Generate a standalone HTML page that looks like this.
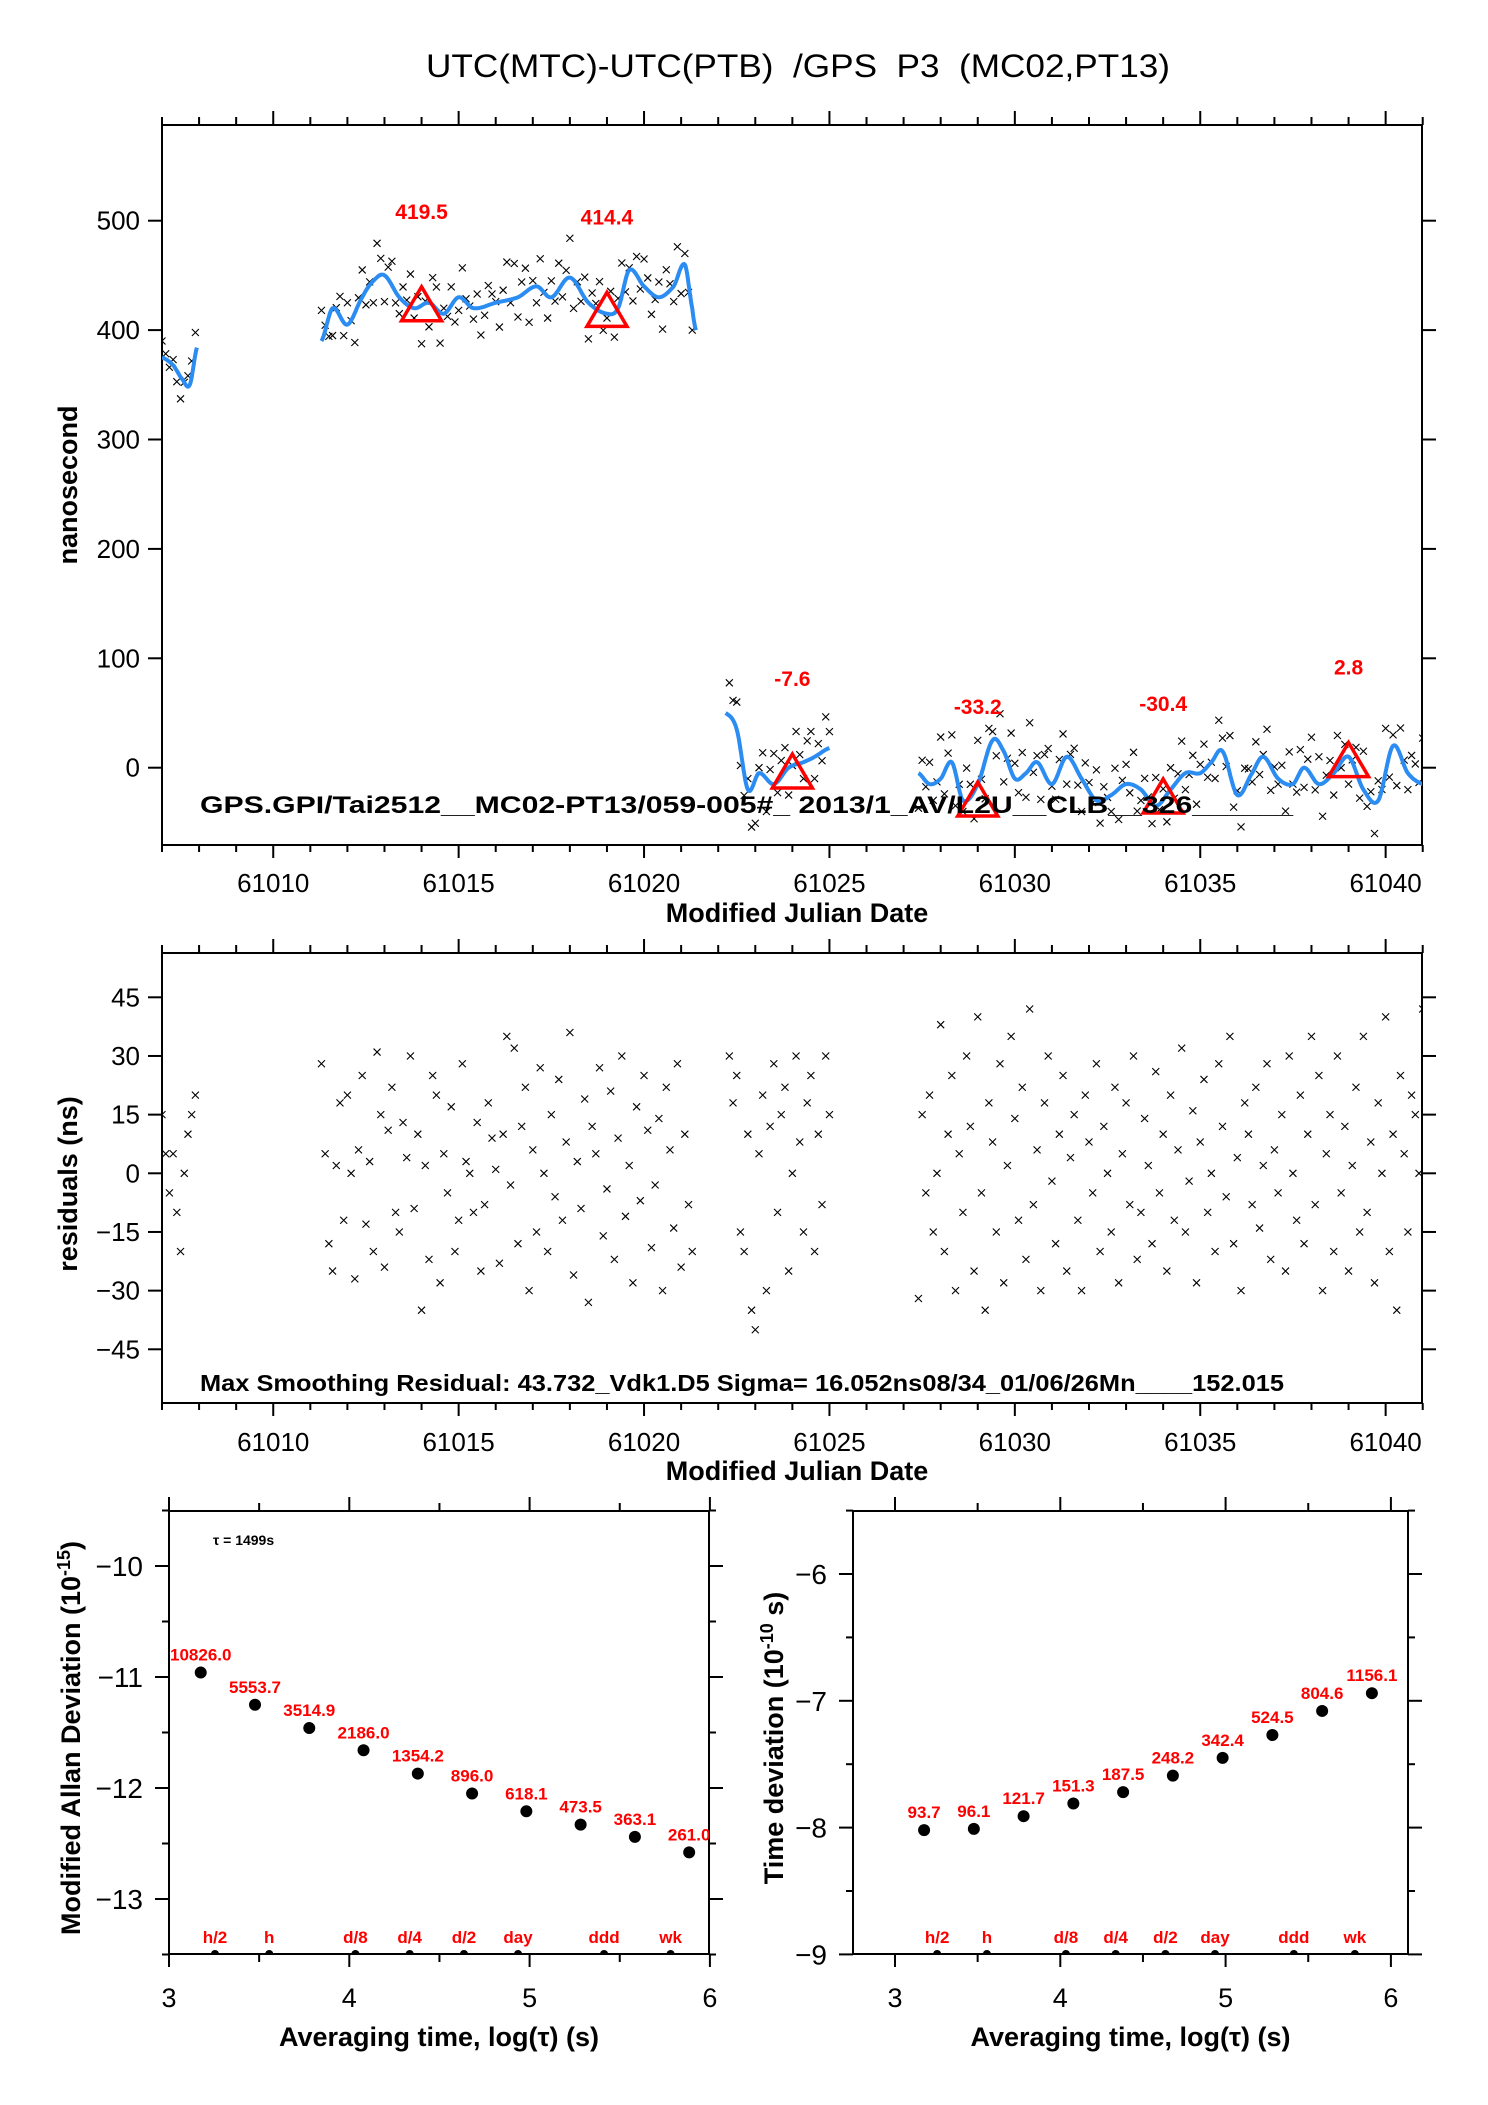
<!DOCTYPE html>
<html><head><meta charset="utf-8"><style>
html,body{margin:0;padding:0;background:#fff;}
svg{display:block;font-family:"Liberation Sans",Arial,sans-serif;}
</style></head><body>
<svg id="chart" width="1488" height="2105" viewBox="0 0 1488 2105" xmlns="http://www.w3.org/2000/svg">
<defs>
<clipPath id="clipTop"><rect x="162" y="125" width="1260" height="720"/></clipPath>
<clipPath id="clipMid"><rect x="162" y="953" width="1260" height="450"/></clipPath>
<clipPath id="clipBL"><rect x="169" y="1511" width="540" height="444"/></clipPath>
<clipPath id="clipBR"><rect x="853" y="1511" width="555" height="444"/></clipPath>
</defs>
<text x="426" y="77" font-size="32" xml:space="preserve" textLength="744" lengthAdjust="spacingAndGlyphs">UTC(MTC)-UTC(PTB)  /GPS  P3  (MC02,PT13)</text>
<g id="gTop"></g>
<g id="gMid"></g>
<g id="gBL"></g>
<g id="gBR"></g>
</svg>
<script>
// ---------- data ----------
var segStarts = [61007.0, 61011.3, 61022.3, 61027.4];
var segStep = 0.1;
var resid1 = [15,5,-5,5,-10,-20,0,10,15,20];
var resid2 = [28,5,-18,-25,2,18,-12,20,0,-27,6,25,-13,3,-20,31,15,-24,11,22,-10,-15,13,4,30,-9,10,-35,2,-22,25,20,-28,5,-5,17,-20,-12,28,3,0,-10,13,-25,-8,18,9,1,-23,10,35,-3,32,-18,12,22,-30,6,-15,27,0,-20,15,-6,24,-12,8,36,-26,3,-9,19,-33,12,5,27,-16,-4,21,-22,9,30,-11,2,-28,17,-7,25,11,-19,-3,14,-30,22,6,-14,28,-24,10,-8,-20];
var resid3 = [30,18,25,-15,-20,10,-35,-40,5,20,-30,12,28,-10,15,22,-25,0,30,8,-15,18,25,-20,10,-8,30,15];
var resid4 = [-32,15,-5,20,-15,0,38,-20,10,25,-30,5,-10,30,12,-25,40,-5,-35,18,8,-15,28,-28,2,35,14,-12,22,-22,42,-8,6,-30,18,30,-2,-18,10,25,-25,4,15,-12,-30,20,8,-5,28,-20,12,0,-15,22,-28,5,18,-8,30,-22,-10,14,2,-18,26,-5,10,-25,20,-12,6,32,-15,-2,16,-28,8,24,-10,0,-20,28,12,-6,35,-18,4,-30,18,10,-8,22,-14,2,28,-22,6,-5,15,-25,30,0,-12,20,-18,10,35,-8,25,-30,5,15,-20,30,-5,12,-25,2,22,-15,35,-10,8,-28,18,0,40,-20,10,-35,25,5,-15,20,15,0,42];
var smoothT1 = [61007.0,61007.3,61007.55,61007.75,61007.95];
var smoothV1 = [375,368,355,350,385];
var smoothT2 = [61011.3,61011.6,61012.0,61012.4,61012.7,61013.0,61013.4,61013.8,61014.2,61014.6,61015.0,61015.4,61016.0,61016.6,61017.1,61017.5,61018.0,61018.5,61019.0,61019.3,61019.6,61020.0,61020.4,61020.8,61021.1,61021.3,61021.4];
var smoothV2 = [390,420,405,430,445,450,430,420,425,415,430,420,425,430,440,430,448,425,415,420,455,440,430,440,460,420,400];
var smoothT3 = [61022.2,61022.5,61022.8,61023.1,61023.5,61023.9,61024.3,61024.6,61025.0];
var smoothV3 = [50,35,-20,-5,-15,0,5,10,18];
var smoothT4 = [61027.4,61027.7,61028.0,61028.3,61028.6,61029.0,61029.4,61029.7,61030.0,61030.3,61030.6,61031.0,61031.4,61031.8,61032.2,61032.6,61033.0,61033.4,61033.8,61034.2,61034.6,61035.0,61035.3,61035.6,61036.0,61036.4,61036.7,61037.1,61037.5,61037.8,61038.2,61038.6,61039.0,61039.4,61039.8,61040.2,61040.6,61041.0];
var smoothV4 = [-5,-15,-10,5,-30,-15,25,15,-10,-5,5,-15,10,-10,-30,-25,-15,-20,-35,-20,-5,-5,5,15,-25,-5,10,-10,-15,0,-15,-5,10,-20,-30,20,-5,-15];
var markerDays = [61014,61019,61024,61029,61034,61039];
var markerValues = [419.5,414.4,-7.6,-33.2,-30.4,2.8];
var markerLabels = ["419.5","414.4","-7.6","-33.2","-30.4","2.8"];
var topYTicks = [0,100,200,300,400,500];
var midYTicks = [45,30,15,0,-15,-30,-45];
var xTickLabels = [61010,61015,61020,61025,61030,61035,61040];
var logTau = [3.176,3.477,3.778,4.079,4.380,4.681,4.982,5.283,5.584,5.885];
var madevValues = [-10.96,-11.25,-11.46,-11.66,-11.87,-12.05,-12.21,-12.33,-12.44,-12.58];
var madevLabels = ["10826.0","5553.7","3514.9","2186.0","1354.2","896.0","618.1","473.5","363.1","261.0"];
var tdevValues = [-8.02,-8.01,-7.91,-7.81,-7.72,-7.59,-7.45,-7.27,-7.08,-6.94];
var tdevLabels = ["93.7","96.1","121.7","151.3","187.5","248.2","342.4","524.5","804.6","1156.1"];
var periodNames = ["h/2","h","d/8","d/4","d/2","day","ddd","wk"];
var periodLog = [3.255,3.556,4.034,4.335,4.636,4.936,5.413,5.782];
var leftYTicks = [-10,-11,-12,-13];
var rightYTicks = [-6,-7,-8,-9];
var logXTicks = [3,4,5,6];

// ---------- scales ----------
function X(t){return 162+(t-61007)*37.08;}
function Y1(v){return 767.7-v*1.094;}
function Y2(r){return 1173.3-r*3.911;}
function XL(l){return 169+(l-3)*180.3;}
function YL(v){return 1566+(-10-v)*111;}
function XR(l){return 895+(l-3)*165.3;}
function YR(v){return 1574+(-6-v)*126.8;}

var NS="http://www.w3.org/2000/svg";
function mk(parent,tag,attrs,text){var e=document.createElementNS(NS,tag);for(var k in attrs)e.setAttribute(k,attrs[k]);if(text!==undefined)e.textContent=text;parent.appendChild(e);return e;}
function fmt(v){return v<0?"\u2212"+(-v):""+v;}

function catmull(ts,vs,t){
  var n=ts.length; if(t<=ts[0])return vs[0]; if(t>=ts[n-1])return vs[n-1];
  var i=0; while(i<n-2&&t>ts[i+1])i++;
  var p0=vs[Math.max(i-1,0)],p1=vs[i],p2=vs[i+1],p3=vs[Math.min(i+2,n-1)];
  var u=(t-ts[i])/(ts[i+1]-ts[i]);
  return 0.5*((2*p1)+(-p0+p2)*u+(2*p0-5*p1+4*p2-p3)*u*u+(-p0+3*p1-3*p2+p3)*u*u*u);
}
var segs=[[smoothT1,smoothV1,resid1],[smoothT2,smoothV2,resid2],[smoothT3,smoothV3,resid3],[smoothT4,smoothV4,resid4]];

function frame(g,x0,y0,x1,y1,name){
  var r=mk(g,'rect',{x:x0,y:y0,width:x1-x0,height:y1-y0,fill:'none',stroke:'#000','stroke-width':2});
  
  
}
function line(g,x1,y1,x2,y2,w){return mk(g,'line',{x1:x1,y1:y1,x2:x2,y2:y2,stroke:'#000','stroke-width':w||2});}
function xmark(g,x,y,s){mk(g,'path',{d:'M'+(x-s)+' '+(y-s)+'L'+(x+s)+' '+(y+s)+'M'+(x-s)+' '+(y+s)+'L'+(x+s)+' '+(y-s),stroke:'#000','stroke-width':1.1,fill:'none'});}

// ---------- time panels ----------
function timeAxes(g,top,bot,yTicks,Yf,labelsY,titleY){
  frame(g,162,top,1422,bot,'plot-frame');
  for(var d=61007;d<=61041;d++){
    var x=X(d),maj=(d%5===0);
    line(g,x,top,x,top-(maj?14:8));
    line(g,x,bot,x,bot+(maj?13:7));
  }
  for(var i=0;i<yTicks.length;i++){
    var y=Yf(yTicks[i]);
    line(g,148,y,162,y); line(g,1422,y,1436,y);
    var t=mk(g,'text',{x:140,y:y+9,'font-size':26,'text-anchor':'end'},fmt(yTicks[i]));
    
    
  }
  for(var j=0;j<xTickLabels.length;j++){
    var tl=mk(g,'text',{x:X(xTickLabels[j]),y:labelsY,'font-size':26,'text-anchor':'middle'},String(xTickLabels[j]));
    
    
  }
  var tt=mk(g,'text',{x:797,y:titleY,'font-size':27,'font-weight':'bold','text-anchor':'middle'},'Modified Julian Date');
  
  
}

var gTop=document.getElementById('gTop');
timeAxes(gTop,125,845,topYTicks,Y1,892,922);
var yt=mk(gTop,'text',{x:0,y:0,'font-size':27,'font-weight':'bold','text-anchor':'middle',transform:'translate(77,485) rotate(-90)'},'nanosecond');


var cTop=mk(gTop,'g',{'clip-path':'url(#clipTop)'});
var gMid=document.getElementById('gMid');
timeAxes(gMid,953,1403,midYTicks,Y2,1451,1480);
var yt2=mk(gMid,'text',{x:0,y:0,'font-size':27,'font-weight':'bold','text-anchor':'middle',transform:'translate(77,1184) rotate(-90)'},'residuals (ns)');


var cMid=mk(gMid,'g',{'clip-path':'url(#clipMid)'});

var rawG=mk(cTop,'g',{});


var resG=mk(cMid,'g',{});


var curveG=mk(cTop,'g',{});


for(var s=0;s<segs.length;s++){
  var T=segs[s][0],V=segs[s][1],R=segs[s][2];
  for(var i=0;i<R.length;i++){
    var t=segStarts[s]+i*segStep;
    xmark(rawG,X(t),Y1(catmull(T,V,t)+R[i]),3.5);
    xmark(resG,X(t),Y2(R[i]),3.5);
  }
  var d='';
  for(var u=T[0];u<=T[T.length-1]+1e-6;u+=0.02){d+=(d?'L':'M')+X(u).toFixed(1)+' '+Y1(catmull(T,V,u)).toFixed(1);}
  mk(curveG,'path',{d:d,fill:'none',stroke:'#2b8cf2','stroke-width':4});
}
for(var m=0;m<markerDays.length;m++){
  var mx=X(markerDays[m]),my=Y1(markerValues[m]);
  var tri=mk(cTop,'path',{d:'M'+mx+' '+(my-22)+'L'+(mx+20)+' '+(my+12)+'L'+(mx-20)+' '+(my+12)+'Z',fill:'none',stroke:'#f00','stroke-width':3.5});
  
  
  var ml=mk(gTop,'text',{x:mx,y:my-90,'font-size':21,'font-weight':'bold',fill:'#f00','text-anchor':'middle'},markerLabels[m]);
  
  
}
var a1=mk(gTop,'text',{x:200,y:813,'font-size':24,'font-weight':'bold',textLength:1093,lengthAdjust:'spacingAndGlyphs','xml:space':'preserve'},'GPS.GPI/Tai2512__MC02-PT13/059-005#_ 2013/1_AV/L2U__CLB__326______');


var a2=mk(gMid,'text',{x:200,y:1391,'font-size':23,'font-weight':'bold',textLength:1084,lengthAdjust:'spacingAndGlyphs'},'Max Smoothing Residual: 43.732_Vdk1.D5  Sigma= 16.052ns08/34_01/06/26Mn____152.015');



// ---------- stability panels ----------
function stabPanel(g,clip,x0,x1,Xf,Yf,yTicks,vals,labels,yTitle,ytx,yLabX){
  var top=1511,bot=1954;
  frame(g,x0,top,x1,bot,'plot-frame');
  for(var l=3;l<=6.001;l+=0.5){
    var x=Xf(l),maj=Math.abs(l-Math.round(l))<0.01;
    line(g,x,top,x,top-(maj?14:8));
    line(g,x,bot,x,bot+(maj?13:8));
  }
  for(var k=0;k<logXTicks.length;k++){
    var tl=mk(g,'text',{x:Xf(logXTicks[k]),y:2007,'font-size':27,'text-anchor':'middle'},String(logXTicks[k]));
    
    
  }
  var vTop=yTicks[0]+0.5;
  for(var v=vTop;v>=yTicks[yTicks.length-1]-0.5-1e-6;v-=0.5){
    var y=Yf(v);if(y<top-1||y>bot+1)continue;
    var mj=Math.abs(v-Math.round(v))<0.01;
    line(g,x0-(mj?14:7),y,x0,y); line(g,x1,y,x1+(mj?14:7),y);
  }
  for(var i=0;i<yTicks.length;i++){
    var t=mk(g,'text',{x:yLabX,y:Yf(yTicks[i])+10,'font-size':28,'text-anchor':'end'},fmt(yTicks[i]));
    
    
  }
  var xt=mk(g,'text',{x:(x0+x1)/2,y:2046,'font-size':27,'font-weight':'bold','text-anchor':'middle'},'Averaging time, log(\u03c4) (s)');
  
  
  var yt=mk(g,'text',{x:0,y:0,'font-size':27,'font-weight':'bold','text-anchor':'middle',transform:'translate('+ytx+',1738) rotate(-90)'});
  yt.innerHTML=yTitle;
  
  
  var c=mk(g,'g',{'clip-path':'url('+clip+')'});
  for(var j=0;j<vals.length;j++){
    var px=Xf(logTau[j]),py=Yf(vals[j]);
    var dot=mk(c,'circle',{cx:px,cy:py,r:6,fill:'#000'});
    
    
    var lb=mk(c,'text',{x:px,y:py-12,'font-size':17,'font-weight':'bold',fill:'#f00','text-anchor':'middle'},labels[j]);
    
    
  }
  for(var p=0;p<periodNames.length;p++){
    var qx=Xf(periodLog[p]);
    mk(c,'circle',{cx:qx,cy:bot,r:4,fill:'#000'});
    var pl=mk(g,'text',{x:qx,y:bot-11,'font-size':17,'font-weight':'bold',fill:'#f00','text-anchor':'middle'},periodNames[p]);
    
    
  }
}
var gBL=document.getElementById('gBL');
stabPanel(gBL,'#clipBL',169,709,XL,YL,leftYTicks,madevValues,madevLabels,'Modified Allan Deviation (10<tspan dy="-10" font-size="18">-15</tspan><tspan dy="10">)</tspan>',80,143);
var tau=mk(gBL,'text',{x:213,y:1545,'font-size':14,'font-weight':'bold'},'\u03c4 = 1499s');


var gBR=document.getElementById('gBR');
stabPanel(gBR,'#clipBR',853,1408,XR,YR,rightYTicks,tdevValues,tdevLabels,'Time deviation (10<tspan dy="-10" font-size="18">-10</tspan><tspan dy="10"> s)</tspan>',783,827);
</script>
</body></html>
